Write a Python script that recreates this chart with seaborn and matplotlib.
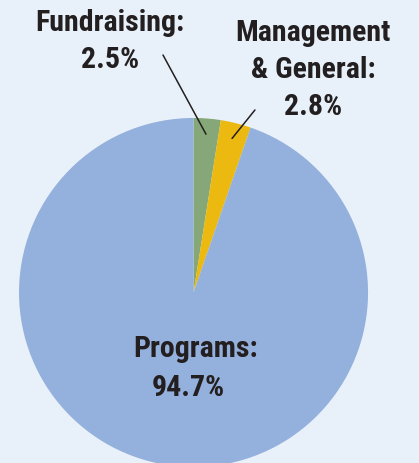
import numpy as np
import matplotlib
matplotlib.use("Agg")
import matplotlib.pyplot as plt
import seaborn as sns

# Datos del grafico
categorias = ["Fundraising", "Management\n& General", "Programs"]
porcentajes = [2.5, 2.8, 94.7]
colores = ["#86a878", "#ebb90f", "#94b0dc"]

sns.set_style("white")
plt.rcParams["font.family"] = ["Roboto Condensed", "DejaVu Sans"]

fondo = "#e8f1f9"
fig = plt.figure(figsize=(4.19, 4.63), dpi=100, facecolor=fondo)
ax = fig.add_axes([0, 0, 1, 1], facecolor=fondo)

wedges, _ = ax.pie(porcentajes, colors=colores, startangle=90, counterclock=False,
                   radius=1, center=(0, 0), wedgeprops=dict(linewidth=0))

ax.set_xlim(-1.109, 1.292)
ax.set_ylim(-0.977, 1.676)
ax.set_aspect("equal")
ax.axis("off")

estilo = dict(fontsize=21.5, fontweight="bold", color="#231f20", ha="center",
              va="center", linespacing=1.42)

# Etiquetas de las porciones pequenas con linea guia
posiciones = [(-0.478, 1.44), (0.685, 1.275)]
inicio = [(-0.175, 1.361), (0.352, 1.046)]
for i in range(2):
    ax.text(posiciones[i][0], posiciones[i][1],
            f"{categorias[i]}:\n{porcentajes[i]}%", **estilo)
    w = wedges[i]
    ang = np.deg2rad((w.theta1 + w.theta2) / 2)
    punto = (0.91 * np.cos(ang), 0.91 * np.sin(ang))
    ax.annotate("", xy=punto, xytext=inicio[i],
                arrowprops=dict(arrowstyle="-", color="#231f20", lw=1.1,
                                shrinkA=0, shrinkB=0))

# Etiqueta de Programs dentro del circulo
ax.text(0.014, -0.325, f"{categorias[2]}:", **estilo)
ax.text(-0.032, -0.55, f"{porcentajes[2]}%", **estilo)

plt.savefig("out.png", dpi=100, facecolor=fondo)
